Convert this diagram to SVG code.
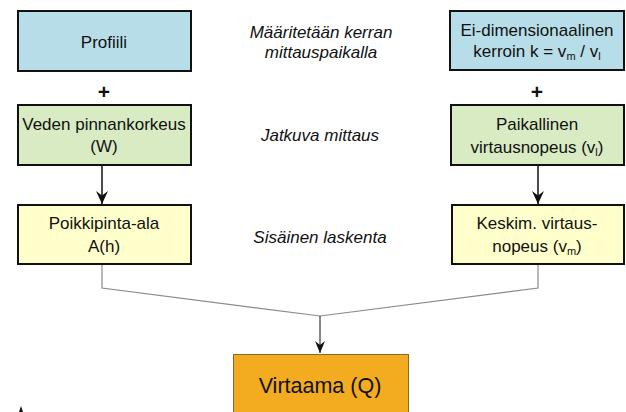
<svg xmlns="http://www.w3.org/2000/svg" width="626" height="412" viewBox="0 0 626 412">
<style>
.box{stroke:#111;stroke-width:2}
.blue{fill:#b7dee8}
.green{fill:#d8ebc3}
.yellow{fill:#ffffcb}
.t{font-family:"Liberation Sans",Arial,sans-serif;font-size:17px;fill:#111;text-anchor:middle}
.i{font-style:italic}
.sub{font-size:11px}
.plus{font-family:"Liberation Sans",Arial,sans-serif;font-size:21px;font-weight:bold;fill:#111;text-anchor:middle}
.gray{fill:none;stroke:#8a8a8a;stroke-width:1.2}
.blk{fill:none;stroke:#111;stroke-width:1.5}
</style>
<defs>
<marker id="ah" viewBox="0 0 12 13" refX="6" refY="13" markerWidth="12" markerHeight="13" markerUnits="userSpaceOnUse" orient="0">
<path d="M0,0 L6,13 L12,0 L6,4.5 Z" fill="#111"/>
</marker>
<marker id="ahs" viewBox="0 0 10 12" refX="5" refY="12" markerWidth="10" markerHeight="12" markerUnits="userSpaceOnUse" orient="0">
<path d="M0,0 L5,12 L10,0 L5,4 Z" fill="#111"/>
</marker>
</defs>

<g id="connectors">
<line class="blk" x1="102" y1="165" x2="102" y2="204" marker-end="url(#ah)"/>
<line class="blk" x1="538" y1="165" x2="538" y2="204" marker-end="url(#ah)"/>
<polyline class="gray" points="102,264 102,288 320,316 538,288 538,264"/>
<line x1="320" y1="316" x2="320" y2="353" stroke="#111" stroke-width="1" marker-end="url(#ahs)"/>
</g>

<g id="profiili">
<rect class="box blue" x="18" y="11" width="173" height="60"/>
<text class="t" x="104" y="48">Profiili</text>
</g>
<g id="plus-left"><text class="plus" x="104" y="99">+</text></g>
<g id="veden">
<rect class="box green" x="18" y="105" width="173" height="60"/>
<text class="t" x="104" y="130">Veden pinnankorkeus</text>
<text class="t" x="104" y="152">(W)</text>
</g>
<g id="poikkipinta">
<rect class="box yellow" x="18" y="205" width="173" height="59"/>
<text class="t" x="104" y="229">Poikkipinta-ala</text>
<text class="t" x="104" y="252">A(h)</text>
</g>

<g id="label-maaritetaan">
<text class="t i" x="321" y="38">Määritetään kerran</text>
<text class="t i" x="321" y="58">mittauspaikalla</text>
</g>
<g id="label-jatkuva"><text class="t i" x="320" y="141">Jatkuva mittaus</text></g>
<g id="label-sisainen"><text class="t i" x="320" y="243">Sisäinen laskenta</text></g>

<g id="kerroin">
<rect class="box blue" x="450" y="11" width="174" height="59"/>
<text class="t" x="537" y="36">Ei-dimensionaalinen</text>
<text class="t" x="537" y="57">kerroin k = v<tspan class="sub" dy="3">m</tspan><tspan dy="-3"> / v</tspan><tspan class="sub" dy="3">l</tspan></text>
</g>
<g id="plus-right"><text class="plus" x="537" y="99">+</text></g>
<g id="paikallinen">
<rect class="box green" x="451" y="105" width="173" height="60"/>
<text class="t" x="537" y="130">Paikallinen</text>
<text class="t" x="537" y="153">virtausnopeus (v<tspan class="sub" dy="3">l</tspan><tspan dy="-3">)</tspan></text>
</g>
<g id="keskim">
<rect class="box yellow" x="452" y="205" width="172" height="59"/>
<text class="t" x="537" y="229">Keskim. virtaus-</text>
<text class="t" x="537" y="252">nopeus (v<tspan class="sub" dy="3">m</tspan><tspan dy="-3">)</tspan></text>
</g>

<g id="virtaama">
<rect x="233.5" y="354.5" width="175" height="70" fill="#f3ac20" stroke="#8a6a2a" stroke-width="1"/>
<text class="t" x="320" y="393" style="font-size:21.5px">Virtaama (Q)</text>
</g>

<path d="M19,412 L21,406 L23,412 Z" fill="#111"/>
</svg>
